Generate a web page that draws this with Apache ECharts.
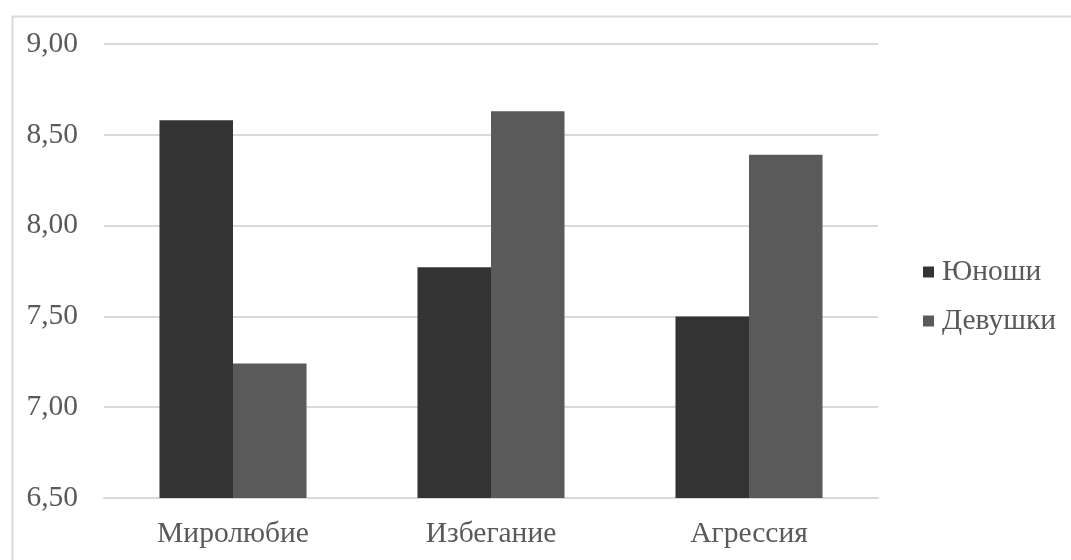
<!DOCTYPE html>
<html>
<head>
<meta charset="utf-8">
<script src="https://cdn.jsdelivr.net/npm/echarts@6/dist/echarts.min.js"></script>
<style>
  html, body { margin: 0; padding: 0; background: #fff; }
  #chart { width: 1071px; height: 560px; }
</style>
</head>
<body>
<div id="chart"></div>
<script>
// Categories and group values
const categories = ['Миролюбие', 'Избегание', 'Агрессия'];
const boys = [8.58, 7.77, 7.50];
const girls = [7.24, 8.63, 8.39];
const seriesNames = ['Юноши', 'Девушки'];

const FONT = '"Liberation Serif", "Times New Roman", serif';
const TEXT = '#595959';

const chart = echarts.init(document.getElementById('chart'));
chart.setOption({
  animation: false,
  backgroundColor: '#ffffff',
  textStyle: { fontFamily: FONT },
  graphic: [{
    type: 'rect',
    left: 10, top: 14,
    shape: { width: 1100, height: 600 },
    style: { fill: 'none', stroke: '#d9d9d9', lineWidth: 2 },
    silent: true
  }],
  grid: { left: 104, right: 193, top: 44, bottom: 62 },
  legend: {
    orient: 'vertical',
    left: 918, top: 252,
    itemWidth: 11, itemHeight: 11, itemGap: 19,
    icon: 'rect',
    textStyle: { fontFamily: FONT, fontSize: 29.5, color: TEXT, padding: [0, 0, 0, 3] },
    data: seriesNames
  },
  xAxis: {
    type: 'category',
    data: categories,
    axisLine: { lineStyle: { color: '#d9d9d9', width: 2 } },
    axisTick: { show: false },
    axisLabel: { fontFamily: FONT, fontSize: 29.5, color: TEXT, margin: 21 }
  },
  yAxis: {
    type: 'value',
    min: 6.5, max: 9, interval: 0.5,
    axisLine: { show: false },
    axisTick: { show: false },
    splitLine: { lineStyle: { color: '#d9d9d9', width: 2 } },
    axisLabel: {
      fontFamily: FONT, fontSize: 29.5, color: TEXT, margin: 26,
      formatter: v => v.toFixed(2).replace('.', ',')
    }
  },
  series: [
    {
      name: seriesNames[0], type: 'bar', data: boys,
      itemStyle: { color: '#333333' },
      barGap: '0%', barCategoryGap: '43%'
    },
    {
      name: seriesNames[1], type: 'bar', data: girls,
      itemStyle: { color: '#5a5a5a' },
      barGap: '0%', barCategoryGap: '43%'
    }
  ]
});
</script>
</body>
</html>
